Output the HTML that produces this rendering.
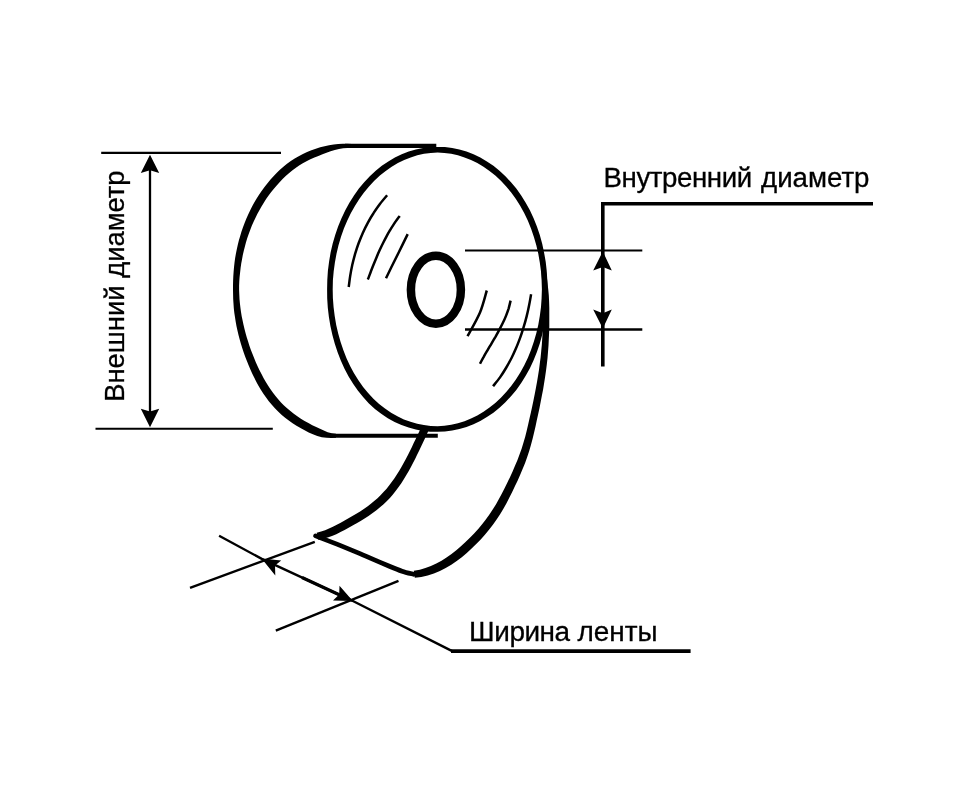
<!DOCTYPE html>
<html lang="ru">
<head>
<meta charset="utf-8">
<title>Схема рулона ленты</title>
<style>
html,body{margin:0;padding:0;background:#fff;}
body{width:978px;height:800px;overflow:hidden;}
svg{display:block;will-change:transform;}
text{font-family:"Liberation Sans",sans-serif;fill:#000;stroke:#000;stroke-width:0.3px;}
</style>
</head>
<body>
<svg width="978" height="800" viewBox="0 0 978 800">
<rect width="978" height="800" fill="#fff"/>
<g fill="#000" stroke="none">
  <!-- back outline of the roll -->
  <path d="M352.0,143.9L347.5,143.7L342.8,143.7L338.2,144.0L333.7,144.5L329.1,145.3L324.6,146.2L320.2,147.3L315.8,148.7L311.4,150.3L307.1,152.1L302.9,154.0L298.7,156.2L294.7,158.5L290.8,161.1L287.0,163.8L283.4,166.7L279.9,169.8L276.6,173.0L273.3,176.4L270.3,179.8L267.3,183.4L264.5,187.0L261.8,190.7L259.2,194.5L256.8,198.3L254.4,202.3L252.2,206.3L250.1,210.4L248.2,214.5L246.3,218.7L244.6,222.9L243.0,227.2L241.5,231.5L240.2,235.9L238.9,240.3L237.8,244.8L236.8,249.2L235.9,253.7L235.1,258.2L234.5,262.8L234.0,267.3L233.6,271.9L233.3,276.4L233.1,281.0L233.0,285.6L233.0,290.1L233.1,294.7L233.2,299.2L233.5,303.8L233.8,308.3L234.3,312.8L235.0,317.3L235.7,321.8L236.5,326.2L237.5,330.7L238.5,335.1L239.7,339.5L240.9,343.8L242.3,348.2L243.7,352.5L245.2,356.8L246.9,361.0L248.6,365.3L250.4,369.5L252.3,373.7L254.3,377.8L256.4,381.9L258.6,385.9L261.0,389.9L263.4,393.8L266.1,397.5L268.8,401.2L271.8,404.8L274.9,408.2L278.1,411.5L281.5,414.7L285.1,417.7L288.8,420.5L292.6,423.2L296.5,425.7L300.5,428.1L304.6,430.3L308.7,432.4L312.9,434.3L317.3,436.0L321.8,437.2L326.5,437.8L331.3,438.0L336.0,437.7L336.0,433.7L331.7,433.3L327.7,432.2L323.8,430.6L320.0,428.8L316.2,427.1L312.3,425.2L308.4,423.1L304.6,421.0L300.9,418.7L297.3,416.3L293.8,413.7L290.4,411.1L287.1,408.3L284.0,405.4L281.0,402.4L278.2,399.3L275.5,396.0L272.8,392.6L270.3,389.1L268.0,385.5L265.7,381.8L263.5,378.0L261.5,374.1L259.5,370.2L257.6,366.2L255.8,362.2L254.1,358.1L252.5,354.0L250.9,349.9L249.4,345.8L248.1,341.6L246.8,337.4L245.6,333.2L244.5,329.0L243.5,324.7L242.6,320.5L241.7,316.2L241.0,311.9L240.4,307.6L239.9,303.2L239.5,298.9L239.3,294.5L239.1,290.1L239.1,285.7L239.3,281.3L239.6,276.9L240.1,272.5L240.6,268.1L241.2,263.7L242.0,259.4L242.8,255.1L243.8,250.8L244.9,246.5L246.0,242.3L247.3,238.1L248.7,234.0L250.2,229.9L251.8,225.8L253.6,221.8L255.4,217.9L257.3,214.0L259.4,210.2L261.5,206.4L263.8,202.7L266.1,199.1L268.6,195.5L271.2,192.1L273.9,188.7L276.7,185.4L279.6,182.2L282.6,179.0L285.7,176.0L288.9,173.2L292.2,170.5L295.6,167.9L299.1,165.5L302.8,163.3L306.5,161.2L310.4,159.3L314.4,157.5L318.4,155.9L322.5,154.3L326.5,152.7L330.6,151.3L334.8,150.0L339.0,149.1L343.2,148.3L347.5,148.0L352.0,147.9Z"/>
  <!-- front face -->
  <path fill-rule="evenodd" d="M541.9,289.3L541.6,298.2L541.0,307.1L539.8,316.0L538.3,324.7L536.3,333.3L533.9,341.6L531.1,349.8L527.9,357.7L524.3,365.3L520.3,372.6L515.9,379.5L511.2,386.0L506.2,392.0L500.9,397.7L495.3,402.9L489.5,407.6L483.5,411.7L477.3,415.4L471.0,418.6L464.5,421.2L457.9,423.3L451.2,424.8L444.4,425.8L437.6,426.2L430.7,426.0L423.9,425.1L417.2,423.8L410.5,421.8L403.9,419.4L397.4,416.3L391.1,412.8L385.0,408.6L379.1,404.0L373.4,398.8L368.1,393.1L363.1,386.9L358.4,380.3L354.0,373.3L350.1,365.9L346.5,358.2L343.4,350.2L340.6,341.9L338.2,333.5L336.2,324.9L334.7,316.1L333.6,307.2L332.9,298.2L332.7,289.3L332.9,280.3L333.7,271.3L334.9,262.5L336.5,253.7L338.5,245.2L341.0,236.8L343.9,228.6L347.2,220.7L350.8,213.2L354.9,205.9L359.3,199.0L364.0,192.5L369.0,186.4L374.3,180.8L379.9,175.6L385.7,171.0L391.7,166.8L397.9,163.1L404.2,160.0L410.7,157.4L417.3,155.3L424.0,153.8L430.8,152.9L437.6,152.5L444.4,152.9L451.2,153.8L457.9,155.3L464.5,157.4L471.0,160.0L477.3,163.1L483.5,166.8L489.5,171.0L495.3,175.6L500.9,180.8L506.2,186.5L511.2,192.5L515.9,199.0L520.3,205.9L524.3,213.2L527.9,220.8L531.1,228.7L533.9,236.9L536.3,245.2L538.3,253.8L539.8,262.5L541.0,271.4L541.6,280.3ZM547.5,289.2L547.3,298.5L546.7,307.7L545.7,316.8L544.1,325.8L542.2,334.7L539.8,343.5L536.9,352.0L533.6,360.2L529.9,368.2L525.7,375.8L521.2,383.0L516.3,389.9L511.0,396.3L505.4,402.2L499.5,407.7L493.4,412.7L486.9,417.1L480.3,421.0L473.5,424.3L466.5,427.0L459.4,429.1L452.2,430.6L444.9,431.5L437.6,431.8L430.3,431.7L423.0,430.9L415.8,429.6L408.6,427.6L401.5,425.1L394.6,421.9L387.8,418.2L381.2,413.8L374.9,408.9L368.9,403.4L363.3,397.3L358.0,390.8L353.1,383.8L348.6,376.4L344.5,368.7L340.8,360.6L337.6,352.3L334.8,343.7L332.4,334.9L330.4,326.0L328.9,316.9L327.8,307.8L327.2,298.5L327.1,289.2L327.3,280.0L327.9,270.7L329.1,261.6L330.6,252.5L332.7,243.6L335.2,234.9L338.1,226.4L341.5,218.2L345.3,210.3L349.4,202.7L354.0,195.5L358.9,188.6L364.2,182.2L369.8,176.3L375.7,170.8L381.8,165.8L388.3,161.4L394.9,157.5L401.7,154.3L408.7,151.6L415.8,149.5L423.0,148.0L430.3,147.1L437.6,146.9L444.9,147.1L452.2,148.0L459.4,149.5L466.5,151.6L473.5,154.3L480.3,157.6L486.9,161.4L493.4,165.8L499.5,170.8L505.4,176.3L511.0,182.2L516.3,188.6L521.2,195.5L525.7,202.7L529.9,210.3L533.6,218.3L536.9,226.5L539.8,235.0L542.2,243.8L544.1,252.7L545.7,261.7L546.7,270.8L547.3,280.0Z"/>
  <!-- core hole -->
  <ellipse cx="435.9" cy="289.75" rx="25" ry="34" fill="none" stroke="#000" stroke-width="8.5"/>
  <!-- tape tail -->
  <path d="M540.7,258.2L541.2,264.4L541.6,270.6L541.9,276.9L542.2,283.1L542.3,289.3L542.4,295.5L542.6,301.7L542.9,307.9L543.0,314.2L543.0,320.4L542.8,326.6L542.6,332.8L542.2,339.0L541.8,345.1L541.2,351.3L540.6,357.5L539.8,363.6L539.0,369.8L538.0,375.9L537.0,382.0L535.9,388.1L534.7,394.2L533.5,400.3L532.2,406.4L530.9,412.5L529.5,418.6L528.1,424.7L526.7,430.8L525.2,436.7L523.5,442.6L521.7,448.4L519.6,454.2L517.5,459.9L515.1,465.6L512.7,471.3L510.1,476.9L507.4,482.5L504.7,488.1L501.9,493.6L498.9,499.1L495.9,504.4L492.7,509.5L489.4,514.6L485.8,519.4L482.1,524.2L478.2,528.9L474.1,533.4L469.9,537.8L465.5,542.1L460.9,546.3L456.3,550.3L451.5,554.0L446.5,557.5L441.5,560.7L436.3,563.5L430.9,566.0L425.4,568.1L419.8,569.8L413.8,570.8L414.8,577.8L421.3,577.1L427.7,575.6L433.9,573.6L439.9,571.1L445.7,568.1L451.3,564.8L456.7,561.1L461.8,557.2L466.8,553.0L471.6,548.6L476.2,544.1L480.7,539.5L484.9,534.7L489.0,529.8L492.9,524.7L496.6,519.5L500.1,514.2L503.4,508.7L506.5,503.2L509.4,497.5L512.2,491.9L515.0,486.1L517.7,480.4L520.3,474.6L522.7,468.8L525.1,462.9L527.2,456.9L529.2,450.9L531.0,444.8L532.6,438.7L534.1,432.5L535.5,426.4L536.8,420.3L538.2,414.1L539.5,408.0L540.7,401.8L541.9,395.6L543.1,389.4L544.1,383.2L545.1,377.0L546.0,370.7L546.8,364.5L547.5,358.2L548.0,351.9L548.5,345.6L548.8,339.3L549.1,333.0L549.3,326.7L549.3,320.4L549.3,314.1L549.3,307.8L549.1,301.5L548.8,295.2L548.2,288.9L547.5,282.7L546.7,276.4L545.8,270.2L544.8,264.0L543.7,257.8Z"/>
  <path d="M421.3,426.8L419.5,430.9L417.6,434.9L415.7,439.0L413.7,443.1L411.8,447.2L409.8,451.2L407.8,455.3L405.7,459.3L403.5,463.2L401.3,467.2L399.1,471.0L396.7,474.8L394.3,478.4L391.7,482.0L389.1,485.5L386.4,488.9L383.5,492.1L380.5,495.2L377.5,498.2L374.2,501.0L370.9,503.8L367.4,506.4L363.8,508.9L360.1,511.4L356.3,513.8L352.4,516.1L348.5,518.3L344.6,520.6L340.7,522.7L336.8,524.8L332.9,526.8L329.0,528.6L325.1,530.2L321.1,531.6L316.7,532.7L318.3,539.7L322.9,538.8L327.6,537.6L332.0,536.0L336.3,534.2L340.5,532.1L344.6,530.0L348.6,527.8L352.6,525.6L356.7,523.3L360.6,520.9L364.6,518.5L368.5,515.9L372.3,513.3L376.1,510.5L379.7,507.6L383.3,504.5L386.7,501.3L389.9,497.9L392.9,494.4L395.8,490.8L398.6,487.0L401.3,483.2L403.8,479.3L406.2,475.3L408.6,471.3L410.8,467.2L413.0,463.1L415.1,459.0L417.1,454.8L419.1,450.7L421.1,446.6L423.0,442.4L424.9,438.4L426.8,434.3L428.7,430.2Z"/>
</g>
<g fill="none" stroke="#000" stroke-linecap="butt" stroke-linejoin="round">
  <path d="M345,145.9 H436.3" stroke-width="4.1"/>
  <path d="M330,435.7 H437.8" stroke-width="4.1"/>
  <path d="M315.5,535.9 C319.6,537.5 332.6,542.4 340.0,545.4 C347.4,548.4 354.2,551.2 360.0,553.6 C365.8,556.1 370.0,558.0 375.0,560.1 C380.0,562.2 385.5,564.6 390.0,566.5 C394.5,568.4 398.1,569.9 402.0,571.2 C405.9,572.5 411.6,573.8 413.5,574.3" stroke-width="4.7" stroke-linecap="round"/>
  <!-- shine strokes -->
  <g stroke-width="2.5">
  <path d="M387.1,195.3 C385.9,196.7 382.2,201.0 379.9,204.0 C377.7,207.0 375.5,210.0 373.5,213.2 C371.4,216.3 369.5,219.6 367.8,222.8 C366.0,226.1 364.3,229.5 362.8,232.9 C361.3,236.3 359.9,239.8 358.6,243.3 C357.3,246.8 356.2,250.3 355.1,253.9 C354.1,257.5 353.1,261.2 352.3,264.8 C351.5,268.5 350.8,272.2 350.2,275.9 C349.6,279.6 349.0,285.1 348.7,287.0"/>
  <path d="M399.7,215.9 C398.9,217.0 396.5,220.2 395.0,222.4 C393.6,224.6 392.1,226.8 390.7,229.1 C389.4,231.3 388.0,233.6 386.8,235.9 C385.5,238.3 384.3,240.6 383.1,243.0 C381.9,245.3 380.8,247.7 379.7,250.1 C378.6,252.5 377.5,255.0 376.5,257.4 C375.5,259.8 374.5,262.3 373.5,264.8 C372.5,267.2 371.6,269.7 370.6,272.2 C369.7,274.6 368.3,278.4 367.8,279.6"/>
  <path d="M407.7,234.1 C406.2,237.2 401.4,246.9 398.7,252.5 C395.9,258.1 393.3,263.2 391.2,267.5 C389.1,271.8 386.9,276.5 386.0,278.3"/>
  <path d="M486.8,290.5 C485.6,294.2 483.2,304.9 480.0,312.5 C476.8,320.1 469.6,332.3 467.5,336.2"/>
  <path d="M510.6,300.6 C510.3,301.9 509.4,305.8 508.7,308.3 C507.9,310.8 507.0,313.2 506.1,315.6 C505.1,318.1 504.1,320.4 502.9,322.8 C501.8,325.1 500.6,327.4 499.4,329.7 C498.2,332.0 496.9,334.3 495.6,336.6 C494.3,338.8 492.9,341.1 491.6,343.3 C490.3,345.6 488.9,347.8 487.6,350.1 C486.3,352.3 484.9,354.6 483.7,356.9 C482.4,359.1 480.6,362.6 480.0,363.8"/>
  <path d="M531.1,294.2 C530.8,296.0 529.9,301.5 529.1,305.2 C528.4,308.8 527.6,312.5 526.7,316.1 C525.8,319.7 524.8,323.4 523.7,326.9 C522.6,330.5 521.5,334.1 520.2,337.6 C518.9,341.1 517.6,344.6 516.1,348.0 C514.6,351.5 513.1,354.9 511.4,358.2 C509.7,361.5 507.9,364.8 506.0,368.0 C504.1,371.2 502.1,374.4 500.0,377.4 C497.8,380.4 494.2,384.8 493.1,386.2"/>
  </g>
  <!-- outer diameter dimension -->
  <g stroke-width="2.1">
  <path d="M101.2,152.9 H281"/>
  <path d="M95.5,428.8 H272.8"/>
  </g>
  <path d="M150,165 V418" stroke-width="2.3"/>
  <!-- inner diameter dimension -->
  <path d="M465,250.5 H642.3" stroke-width="2.2"/>
  <path d="M465,329.4 H642.3" stroke-width="2.5"/>
  <path d="M873,203.8 H602.8 V366.5" stroke-width="3.6" stroke-linejoin="miter"/>
  <!-- tape width dimension -->
  <g stroke-width="2.4">
  <path d="M219.1,535.7 L261.8,558.9 L352.4,600.8 L452.2,651.1"/>
  <path d="M190,587.8 L314.8,541.8"/>
  <path d="M275.8,630.7 L398.5,580.9"/>
  </g>
  <path d="M302,577.5 L350,599.7" stroke-width="3.3"/>
  <path d="M451,651.2 H690.6" stroke-width="3.7"/>
</g>
<g fill="#000" stroke="none">
  <!-- arrowheads -->
  <path d="M150,154.8 L159.2,173 L150,170.3 L140.8,173 Z"/>
  <path d="M150,427.2 L159.2,408.8 L150,411.5 L140.8,408.8 Z"/>
  <path d="M602.8,251.4 L611.8,270.6 L602.8,267 L593.2,270.6 Z"/>
  <path d="M602.8,328.6 L611.8,309.6 L602.8,313.2 L593.2,309.6 Z"/>
  <path d="M261.6,558.6 L275.3,575.5 L275,565.5 L281.2,560.4 Z"/>
  <path d="M352.8,601 L339.5,585.8 L339.2,594.6 L333,600.6 Z"/>
</g>
<text id="t1" transform="translate(603.6,187.2) scale(0.988,1)" font-size="28"><tspan letter-spacing="-0.44">Внутренний</tspan><tspan dx="1.65"> диаметр</tspan></text>
<text id="t2" transform="translate(469.1,641.4) scale(0.998,1)" font-size="28"><tspan letter-spacing="-0.463">Ширина</tspan><tspan dx="0.1"> ленты</tspan></text>
<text id="t3" transform="translate(124.1,401.8) rotate(-90) scale(0.979,1)" font-size="28">Внешний диаметр</text>
</svg>
</body>
</html>
